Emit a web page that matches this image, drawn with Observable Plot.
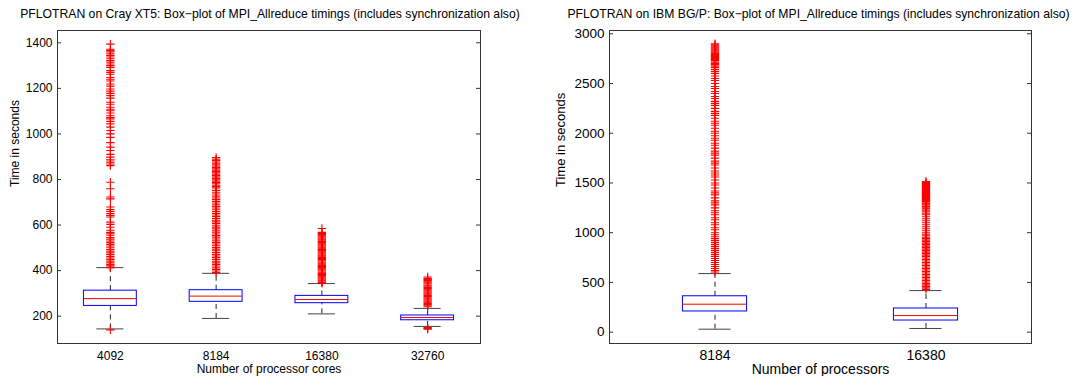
<!DOCTYPE html>
<html><head><meta charset="utf-8">
<script src="https://cdn.jsdelivr.net/npm/d3@7"></script>
<script src="https://cdn.jsdelivr.net/npm/@observablehq/plot@0.6"></script>
<style>
body{margin:0;background:#fff;font-family:"Liberation Sans",Arial,sans-serif}
#wrap{display:flex;width:1074px;height:376px;overflow:hidden}
#wrap svg{flex:none}
</style>
</head><body><div id="wrap"></div>
<script>
// ---------- Cray XT5 ----------
const crayCores = ["4092", "8184", "16380", "32760"];
const crayQ1 = [245, 263, 257, 182];
const crayMedian = [277, 288, 273, 194];
const crayQ3 = [312, 314, 289, 203];
const crayWhiskerLow = [144, 190, 210, 155];
const crayWhiskerHigh = [413, 388, 343, 234];
const crayOut4092 = [1394,1372,1366,1360,1352,1345,1338,1330,1322,1315,1307,1300,1292,1278,1270,1262,1248,1240,1232,1219,1210,1197,1188,1178,1168,1157,1139,1130,1117,1108,1102,1092,1080,1072,1066,1055,1044,1030,1015,1000,985,962,942,927,910,898,886,876,868,861,788,759,723,715,679,668,660,650,642,635,613,603,590,577,568,562,555,545,538,530,523,515,508,500,492,485,478,470,462,455,448,441,434,427,421,416,413,140];
const crayOut8184 = [896,889,883,877,871,865,859,853,847,841,835,829,823,817,811,805,799,793,787,781,775,769,763,752,744,736,727,719,712,704,697,689,682,675,667,659,651,644,637,629,621,614,607,599,591,584,577,569,561,554,547,539,531,524,517,509,501,494,487,479,471,464,457,449,441,434,427,420,412,405,398,392];
const crayOut16380 = [585,568,563,558,553,548,543,538,533,528,523,518,513,508,503,498,493,488,483,478,473,468,463,458,453,448,443,438,433,428,423,418,413,408,403,398,393,388,383,378,373,368,363,358,353,348,344];
const crayOut32760 = [372,366,361,356,351,346,341,336,331,326,321,316,311,306,301,296,291,286,281,276,271,266,261,256,251,246,241,150,146,143];
const crayTicks = [200, 400, 600, 800, 1000, 1200, 1400];

// ---------- IBM BG/P ----------
const bgpProcs = ["8184", "16380"];
const bgpQ1 = [208, 117];
const bgpMedian = [281, 167];
const bgpQ3 = [361, 238];
const bgpWhiskerLow = [30, 37];
const bgpWhiskerHigh = [589, 418];
const bgpOut8184 = [2900,2890,2880,2870,2860,2850,2840,2830,2820,2810,2800,2790,2780,2770,2760,2750,2740,2730,2715,2700,2690,2675,2660,2640,2620,2600,2575,2550,2530,2500,2470,2450,2420,2400,2370,2350,2320,2300,2280,2250,2220,2200,2180,2150,2120,2100,2080,2050,2020,2000,1975,1950,1930,1900,1880,1850,1820,1800,1780,1750,1720,1700,1680,1650,1620,1600,1580,1560,1530,1500,1480,1450,1420,1400,1380,1350,1320,1300,1280,1250,1220,1200,1180,1150,1130,1100,1080,1050,1030,1000,980,960,940,920,900,880,860,840,820,800,780,760,740,720,700,680,660,640,620,605];
const bgpOut16380 = [1515,1505,1495,1485,1475,1465,1455,1445,1435,1425,1415,1405,1395,1385,1375,1365,1355,1345,1335,1325,1315,1300,1290,1280,1265,1250,1240,1225,1210,1195,1180,1160,1140,1120,1100,1080,1060,1040,1020,1000,985,970,955,940,925,910,895,880,865,850,835,820,805,790,775,760,745,730,715,700,685,670,655,640,625,610,595,580,565,550,535,520,505,490,475,460,445,430];
const bgpTicks = [0, 500, 1000, 1500, 2000, 2500, 3000];

function panel(o) {
  const rows = o.cats.map((c, i) => ({pos: i + 1, q1: o.q1[i], med: o.med[i], q3: o.q3[i], lo: o.lo[i], hi: o.hi[i]}));
  const outRows = o.cats.flatMap((c, i) => o.outs[i].map(v => ({pos: i + 1, v})));
  const frameW = o.width - o.mL - o.mR;
  const bh = o.boxHalf, ch = o.capHalf;
  return Plot.plot({
    width: o.width, height: 376,
    marginLeft: o.mL, marginRight: o.mR, marginTop: 30, marginBottom: 33,
    style: {fontFamily: "'Liberation Sans', Arial, sans-serif", background: "white", color: "#000"},
    x: {domain: [0.5, o.cats.length + 0.5]},
    y: {domain: o.yDomain},
    marks: [
      Plot.ruleX(rows, {x: "pos", y1: "q3", y2: "hi", stroke: "#222", strokeDasharray: "5,4"}),
      Plot.ruleX(rows, {x: "pos", y1: "lo", y2: "q1", stroke: "#222", strokeDasharray: "5,4"}),
      Plot.ruleY(rows, {y: "hi", x1: d => d.pos - ch, x2: d => d.pos + ch, stroke: "#444"}),
      Plot.ruleY(rows, {y: "lo", x1: d => d.pos - ch, x2: d => d.pos + ch, stroke: "#444"}),
      Plot.dot(outRows, {x: "pos", y: "v", symbol: "plus", r: 2.8, stroke: "red", strokeWidth: 1.1}),
      Plot.rect(rows, {x1: d => d.pos - bh, x2: d => d.pos + bh, y1: "q1", y2: "q3", stroke: "blue", fill: "none"}),
      Plot.ruleY(rows, {y: "med", x1: d => d.pos - bh, x2: d => d.pos + bh, stroke: "red"}),
      Plot.frame({stroke: "#333"}),
      Plot.tickY(o.ticks, {y: d => d, insetRight: frameW - 4, stroke: "#333"}),
      Plot.tickY(o.ticks, {y: d => d, insetLeft: frameW - 4, stroke: "#333"}),
      Plot.axisY({ticks: o.ticks, tickFormat: d => String(d), tickSize: 0, tickPadding: 5, fontSize: o.tickFont, label: null}),
      Plot.axisX({ticks: o.cats.map((c, i) => i + 1), tickFormat: i => o.cats[i - 1], tickSize: 0, tickPadding: o.xPad, fontSize: o.xFont, label: null}),
      Plot.text([o.title], {text: d => d, frameAnchor: "top", dy: -16, dx: o.titleDx, fontSize: 12.2, lineAnchor: "middle"}),
      Plot.text([o.xLabel], {text: d => d, frameAnchor: "bottom", dy: o.xLabelDy, fontSize: o.labelFont, lineAnchor: "middle"}),
      Plot.text(["Time in seconds"], {text: d => d, frameAnchor: "left", dx: o.yLabelDx, rotate: -90, fontSize: o.yLabelFont, lineAnchor: "middle"})
    ]
  });
}

const wrap = document.getElementById("wrap");
wrap.append(panel({
  cats: crayCores, q1: crayQ1, med: crayMedian, q3: crayQ3, lo: crayWhiskerLow, hi: crayWhiskerHigh,
  outs: [crayOut4092, crayOut8184, crayOut16380, crayOut32760], ticks: crayTicks,
  yDomain: [80, 1454], width: 537, mL: 57, mR: 57, boxHalf: 0.25, capHalf: 0.128,
  title: "PFLOTRAN on Cray XT5: Box\u2212plot of MPI_Allreduce timings (includes synchronization also)",
  titleDx: 1, xLabel: "Number of processor cores", tickFont: 12, xFont: 12, labelFont: 12, xPad: 8, xLabelDy: 26,
  yLabelDx: -42, yLabelFont: 12
}));
wrap.append(panel({
  cats: bgpProcs, q1: bgpQ1, med: bgpMedian, q3: bgpQ3, lo: bgpWhiskerLow, hi: bgpWhiskerHigh,
  outs: [bgpOut8184, bgpOut16380], ticks: bgpTicks,
  yDomain: [-114, 3033], width: 537, mL: 72, mR: 43, boxHalf: 0.152, capHalf: 0.076,
  title: "PFLOTRAN on IBM BG/P: Box\u2212plot of MPI_Allreduce timings (includes synchronization also)",
  titleDx: -2, xLabel: "Number of processors", tickFont: 13.5, xFont: 14, labelFont: 14, xPad: 7, xLabelDy: 26,
  yLabelDx: -49, yLabelFont: 13
}));
</script>
</body></html>
